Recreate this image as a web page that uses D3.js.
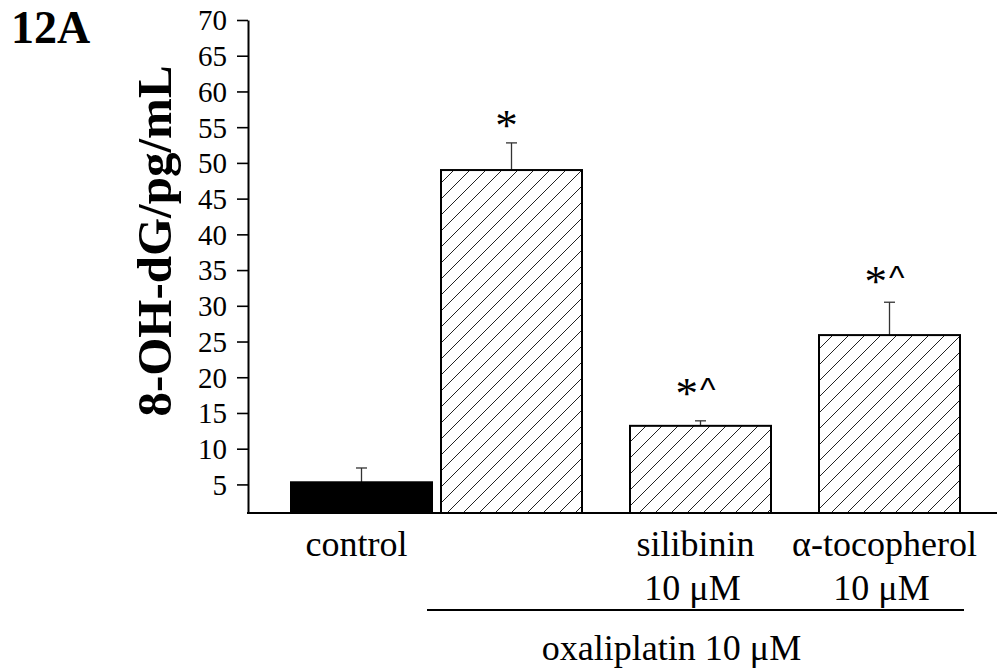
<!DOCTYPE html>
<html>
<head>
<meta charset="utf-8">
<script src="https://cdn.jsdelivr.net/npm/d3@7"></script>
<style>
  html, body { margin: 0; padding: 0; background: #fff; }
  svg { display: block; }
  text { font-family: "Liberation Serif", "Times New Roman", serif; fill: #000; }
</style>
</head>
<body>
<svg id="chart" width="997" height="670"></svg>
<script>
// 8-OH-dG levels per treatment group
const categories = ["control", "oxaliplatin", "silibinin", "tocopherol"];
const means      = [5.3, 49.0, 13.2, 25.9];
const errorTops  = [7.3, 52.8, 13.9, 30.5];
const marks      = ["", "*", "*^", "*^"];
const markLevels = [0, 55.0, 17.5, 33.2];   // value at which each significance mark sits
const labelLine1 = ["control", "", "silibinin", "α-tocopherol"];
const labelLine2 = ["", "", "10 μM", "10 μM"];
const groupLabel = "oxaliplatin 10 μM";
const yTicks     = [5, 10, 15, 20, 25, 30, 35, 40, 45, 50, 55, 60, 65, 70];
const yTitle     = "8-OH-dG/pg/mL";
const panelLabel = "12A";

const SERIF = "'Liberation Serif', 'Times New Roman', serif";
const SANS = "'Liberation Sans', Arial, sans-serif";

const svg = d3.select("#chart");

const axisX = 248, baseY = 513, topY = 20;
const y = d3.scaleLinear().domain([1, 70]).range([baseY, topY]);

const x = d3.scaleBand()
  .domain(categories)
  .range([252, 960])
  .paddingInner(48 / 189)
  .paddingOuter(0)
  .align(0);
const bw = x.bandwidth();

// control bar sits right next to the oxaliplatin bar
function barX(c) {
  return c === "control" ? x("oxaliplatin") - bw - 9 : x(c);
}

// diagonal hatch
const defs = svg.append("defs");
const pat = defs.append("pattern")
  .attr("id", "hatch")
  .attr("patternUnits", "userSpaceOnUse")
  .attr("width", 16).attr("height", 16);
pat.append("path")
  .attr("d", "M-4,4 L4,-4 M0,16 L16,0 M12,20 L20,12")
  .attr("stroke", "#222").attr("stroke-width", 1);

const data = categories.map((c, i) => ({
  c, v: means[i], e: errorTops[i], m: marks[i], ml: markLevels[i],
  l1: labelLine1[i], l2: labelLine2[i]
}));

// error bars (upper only)
const eg = svg.append("g").attr("stroke", "#333").attr("stroke-width", 1.3);
data.forEach(d => {
  const cx = barX(d.c) + bw / 2;
  eg.append("line").attr("x1", cx).attr("x2", cx).attr("y1", y(d.v)).attr("y2", y(d.e));
  eg.append("line").attr("x1", cx - 5.5).attr("x2", cx + 5.5).attr("y1", y(d.e)).attr("y2", y(d.e));
});

// bars
svg.append("g").selectAll("rect").data(data).join("rect")
  .attr("x", d => barX(d.c))
  .attr("y", d => y(d.v))
  .attr("width", bw)
  .attr("height", d => y(1) - y(d.v))
  .attr("fill", d => d.c === "control" ? "#000" : "url(#hatch)")
  .attr("stroke", "#000")
  .attr("stroke-width", 2);

// significance marks
const mg = svg.append("g");
data.filter(d => d.m).forEach(d => {
  const t = mg.append("text")
    .attr("x", barX(d.c) + bw / 2 - 5)
    .attr("y", y(d.ml) + 13)
    .attr("text-anchor", "middle")
    .style("font-family", SERIF)
    .style("font-size", "45px");
  t.append("tspan").text("*");
  if (d.m.length > 1) {
    t.append("tspan")
      .style("font-family", SANS)
      .style("font-size", "33px")
      .attr("dx", 2)
      .attr("dy", -7)
      .text("^");
  }
});

// y axis
const yAxis = d3.axisLeft(y).tickValues(yTicks).tickSize(11).tickPadding(10).tickSizeOuter(0);
const ya = svg.append("g").attr("transform", `translate(${axisX},0)`).call(yAxis);
ya.attr("font-family", null).attr("font-size", null);
ya.select(".domain").attr("stroke", "#000").attr("stroke-width", 2);
ya.selectAll(".tick line").attr("stroke", "#000").attr("stroke-width", 1.6);
ya.selectAll(".tick text")
  .style("font-family", SERIF)
  .style("font-size", "29px")
  .attr("dy", "0.34em");

// x axis baseline
svg.append("line")
  .attr("x1", axisX - 1).attr("x2", 997)
  .attr("y1", baseY).attr("y2", baseY)
  .attr("stroke", "#000").attr("stroke-width", 2);

// category labels
const lg = svg.append("g").attr("text-anchor", "middle")
  .style("font-family", SERIF).style("font-size", "36px");
data.forEach(d => {
  const cx = barX(d.c) + bw / 2 - 5;
  if (d.l1) lg.append("text").attr("x", cx).attr("y", 556).text(d.l1);
  if (d.l2) lg.append("text").attr("x", cx - 3).attr("y", 600).text(d.l2);
});

// oxaliplatin group bracket
const gx0 = x("oxaliplatin") - 14, gx1 = x("tocopherol") + bw + 4;
svg.append("line")
  .attr("x1", gx0).attr("x2", gx1).attr("y1", 610).attr("y2", 610)
  .attr("stroke", "#000").attr("stroke-width", 2);
svg.append("text")
  .attr("x", (gx0 + gx1) / 2 - 24).attr("y", 660)
  .attr("text-anchor", "middle")
  .style("font-family", SERIF)
  .style("font-size", "36px")
  .text(groupLabel);

// y title
svg.append("text")
  .attr("transform", `translate(171,241) rotate(-90)`)
  .attr("text-anchor", "middle")
  .style("font-family", SERIF)
  .style("font-size", "49px")
  .style("font-weight", "bold")
  .text(yTitle);

// panel label
svg.append("text")
  .attr("x", 11).attr("y", 43)
  .style("font-family", SERIF)
  .style("font-size", "46px")
  .style("font-weight", "bold")
  .text(panelLabel);
</script>
</body>
</html>
